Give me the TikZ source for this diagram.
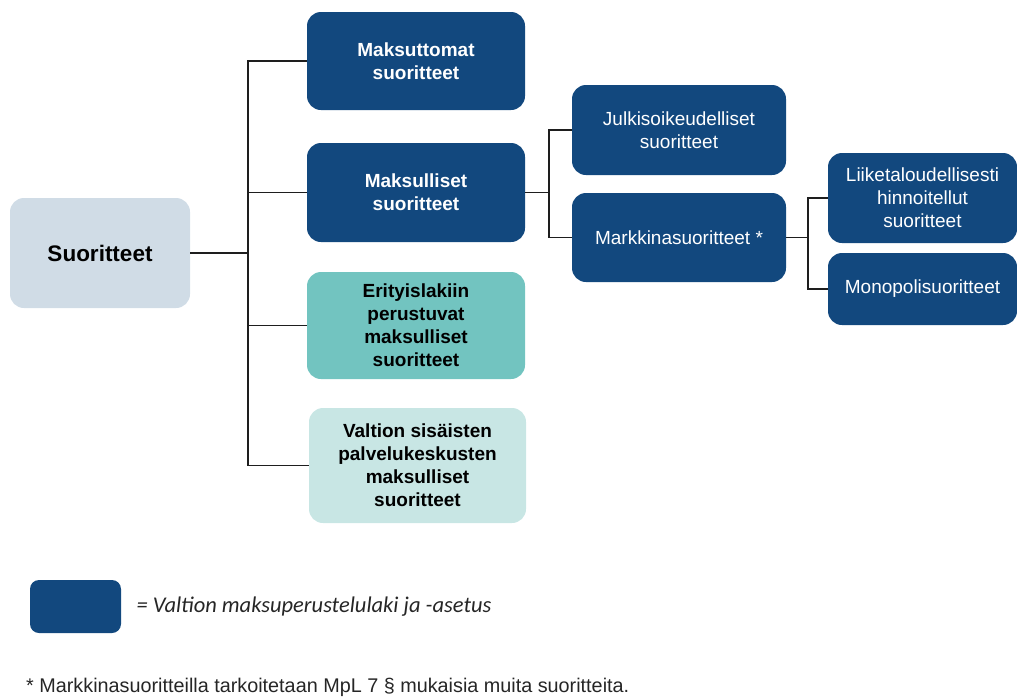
\documentclass[tikz,border=0pt]{standalone}
\usepackage{fontspec}
\setmainfont{Liberation Sans}
\newfontfamily\legendfont{Carlito}
\usetikzlibrary{positioning}
\definecolor{navyBox}{RGB}{18,72,126}
\definecolor{tealBox}{RGB}{114,196,192}
\definecolor{paleTeal}{RGB}{200,230,228}
\definecolor{rootGray}{RGB}{208,220,230}
\definecolor{linkGray}{RGB}{30,30,30}

\begin{document}
\begin{tikzpicture}[x=1pt, y=-1pt,
    box/.style={rounded corners=14pt, align=center, inner sep=2pt,
      font=\fontsize{19}{23}\selectfont},
    navy/.style={box, fill=navyBox, text=white},
    navybold/.style={navy, font=\fontsize{19}{23}\selectfont\bfseries},
    link/.style={draw=linkGray, line width=1.4pt}]
  \useasboundingbox (0,0) rectangle (1017,699);
  % root and first level
  \node[box, fill=rootGray, minimum width=180pt, minimum height=110pt,
    font=\fontsize{22.5}{27}\selectfont\bfseries] (root) at (100,253) {Suoritteet};
  \node[navybold, minimum width=218pt, minimum height=98pt] (free) at (416,61) {Maksuttomat\\suoritteet};
  \node[navybold, minimum width=218pt, minimum height=99pt] (paid) at (416,192.5) {Maksulliset\\suoritteet};
  \node[box, fill=tealBox, minimum width=218pt, minimum height=107pt,
    font=\fontsize{19}{23}\selectfont\bfseries] (special) at (416,325.5) {Erityislakiin\\perustuvat\\maksulliset\\suoritteet};
  \node[box, fill=paleTeal, minimum width=217pt, minimum height=115pt,
    font=\fontsize{19}{23}\selectfont\bfseries] (internal) at (417.5,465.5) {Valtion sisäisten\\palvelukeskusten\\maksulliset\\suoritteet};
  % second level
  \node[navy, minimum width=214pt, minimum height=90pt] (public) at (679,130) {Julkisoikeudelliset\\suoritteet};
  \node[navy, minimum width=214pt, minimum height=89pt] (market) at (679,237.5) {Markkinasuoritteet *};
  % third level
  \node[navy, minimum width=189pt, minimum height=90pt] (business) at (922.5,198) {Liiketaloudellisesti\\hinnoitellut\\suoritteet};
  \node[navy, minimum width=189pt, minimum height=72pt] (monopoly) at (922.5,289) {Monopolisuoritteet};
  % connectors
  \coordinate (trunk) at (248,253);
  \coordinate (paidfork) at (549,192.5);
  \coordinate (marketfork) at (808,237.5);
  \draw[link, line width=2pt] (root.east) -- (trunk);
  \draw[link] (free.west) -| (trunk) |- (internal.west);
  \draw[link] (paid.west) -- (paid.west -| trunk);
  \draw[link] (special.west) -- (special.west -| trunk);
  \draw[link] (paid.east) -- (paidfork);
  \draw[link] (public.west) -| (paidfork) |- (market.west);
  \draw[link] (market.east) -- (marketfork);
  \draw[link] (business.west) -| (marketfork) |- (monopoly.west);
  % legend
  \node[fill=navyBox, rounded corners=9pt, minimum width=91pt, minimum height=53pt] (legendbox) at (75.5,606.5) {};
  \node[anchor=west, font=\legendfont\itshape\fontsize{22.5}{26}\selectfont, text=black!85] (legendtext) at (133,607) {= Valtion maksuperustelulaki ja -asetus};
  \node[anchor=base west, inner sep=0pt, font=\fontsize{19.8}{23}\selectfont, text=black!85] (footnote) at (26,692) {* Markkinasuoritteilla tarkoitetaan MpL 7 § mukaisia muita suoritteita.};
\end{tikzpicture}
\end{document}
